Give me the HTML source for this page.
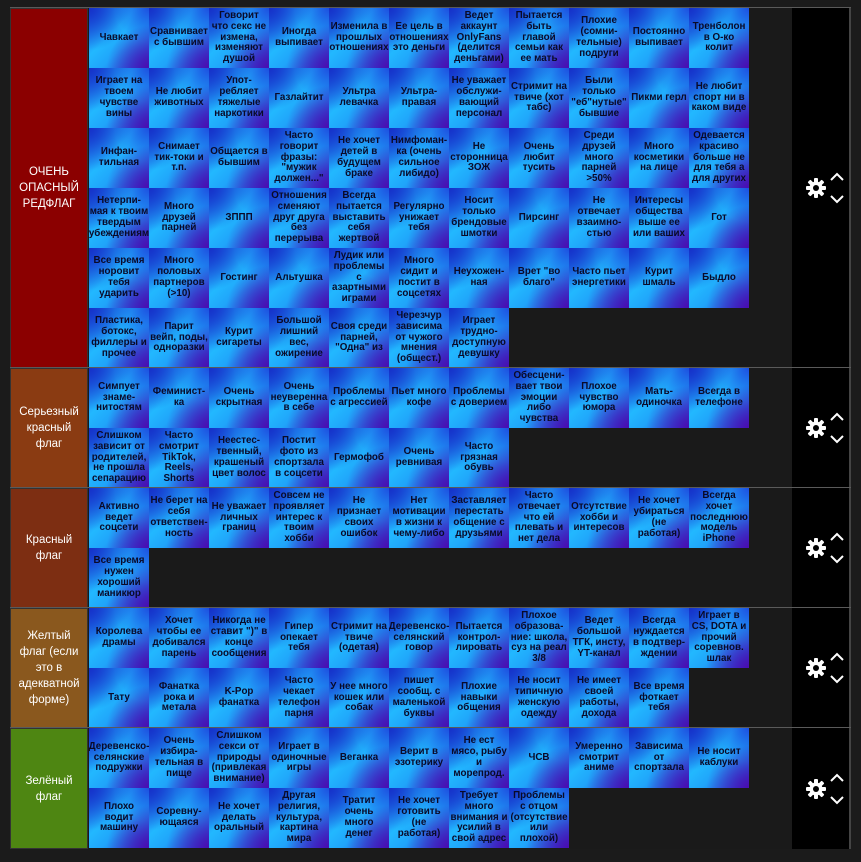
<!DOCTYPE html>
<html><head><meta charset="utf-8"><style>
*{margin:0;padding:0;box-sizing:border-box}
body{width:861px;height:862px;background:#1b1b1b;font-family:"Liberation Sans","DejaVu Sans",sans-serif;overflow:hidden;position:relative}
.tier{position:absolute;left:10px;width:841px;background:#1a1a1a;border-top:1px solid #5a5a5a}
.lab{position:absolute;left:0;top:0;bottom:0;width:78px;display:flex;align-items:center;justify-content:center;text-align:center;color:#fff;font-size:11.5px;line-height:16px;border:1px solid #333}
.items{position:absolute;left:79px;top:0;width:660px;display:flex;flex-wrap:wrap}
.c{width:60px;height:60px;display:flex;align-items:center;justify-content:center;text-align:center;font-size:9.8px;line-height:10.8px;font-weight:bold;color:#0a0a28;overflow:hidden;padding:0 1px;
background:radial-gradient(circle at 100% 100%,#4a0cb0 0%,rgba(74,12,176,0) 50%),radial-gradient(circle at 0% 0%,#1530c8 0%,rgba(21,48,200,0) 50%),radial-gradient(circle at 100% 0%,#1d4fe0 0%,rgba(29,79,224,0) 40%),linear-gradient(135deg,#1c60e8 0%,#22b8ff 40%,#20a4fa 60%,#2440d8 100%)}
.ctl{position:absolute;left:782px;top:0;bottom:0;width:59px;background:#000;border-right:2px solid #444}
.gear{position:absolute;left:14px;top:50%;transform:translateY(-50%)}
.arr{position:absolute;left:37px;top:50%;transform:translateY(-50%)}
</style></head><body>
<svg width="0" height="0" style="position:absolute"><defs><g id="g"><circle cx="10" cy="10" r="6.5" fill="#fff"/><g fill="#fff"><rect x="8" y="0" width="4" height="20" rx="1"/><rect x="8" y="0" width="4" height="20" rx="1" transform="rotate(45 10 10)"/><rect x="8" y="0" width="4" height="20" rx="1" transform="rotate(90 10 10)"/><rect x="8" y="0" width="4" height="20" rx="1" transform="rotate(135 10 10)"/></g><circle cx="10" cy="10" r="3" fill="#000"/></g></defs></svg>

<div class="tier" style="top:7px;height:361px">
<div class="lab" style="background:#8b0000">ОЧЕНЬ<br>ОПАСНЫЙ<br>РЕДФЛАГ</div>
<div class="items">
<div class="c">Чавкает</div><div class="c">Сравнивает с бывшим</div><div class="c">Говорит что секс не измена, изменяют душой</div><div class="c">Иногда выпивает</div><div class="c">Изменила в прошлых отношениях</div><div class="c">Ее цель в отношениях это деньги</div><div class="c">Ведет аккаунт OnlyFans (делится деньгами)</div><div class="c">Пытается быть главой семьи как ее мать</div><div class="c">Плохие (сомни-тельные) подруги</div><div class="c">Постоянно выпивает</div><div class="c">Тренболон в О-ко колит</div>
<div class="c">Играет на твоем чувстве вины</div><div class="c">Не любит животных</div><div class="c">Упот-ребляет тяжелые наркотики</div><div class="c">Газлайтит</div><div class="c">Ультра левачка</div><div class="c">Ультра-правая</div><div class="c">Не уважает обслужи-вающий персонал</div><div class="c">Стримит на твиче (хот табс)</div><div class="c">Были только "еб"нутые" бывшие</div><div class="c">Пикми герл</div><div class="c">Не любит спорт ни в каком виде</div>
<div class="c">Инфан-тильная</div><div class="c">Снимает тик-токи и т.п.</div><div class="c">Общается в бывшим</div><div class="c">Часто говорит фразы: "мужик должен..."</div><div class="c">Не хочет детей в будущем браке</div><div class="c">Нимфоман-ка (очень сильное либидо)</div><div class="c">Не сторонница ЗОЖ</div><div class="c">Очень любит тусить</div><div class="c">Среди друзей много парней &gt;50%</div><div class="c">Много косметики на лице</div><div class="c">Одевается красиво больше не для тебя а для других</div>
<div class="c">Нетерпи-мая к твоим твердым убеждениям</div><div class="c">Много друзей парней</div><div class="c">ЗППП</div><div class="c">Отношения сменяют друг друга без перерыва</div><div class="c">Всегда пытается выставить себя жертвой</div><div class="c">Регулярно унижает тебя</div><div class="c">Носит только брендовые шмотки</div><div class="c">Пирсинг</div><div class="c">Не отвечает взаимно-стью</div><div class="c">Интересы общества выше ее или ваших</div><div class="c">Гот</div>
<div class="c">Все время норовит тебя ударить</div><div class="c">Много половых партнеров (&gt;10)</div><div class="c">Гостинг</div><div class="c">Альтушка</div><div class="c">Лудик или проблемы с азартными играми</div><div class="c">Много сидит и постит в соцсетях</div><div class="c">Неухожен-ная</div><div class="c">Врет "во благо"</div><div class="c">Часто пьет энергетики</div><div class="c">Курит шмаль</div><div class="c">Быдло</div>
<div class="c">Пластика, ботокс, филлеры и прочее</div><div class="c">Парит вейп, поды, одноразки</div><div class="c">Курит сигареты</div><div class="c">Большой лишний вес, ожирение</div><div class="c">Своя среди парней, "Одна" из</div><div class="c">Черезчур зависима от чужого мнения (общест.)</div><div class="c">Играет трудно-доступную девушку</div>
</div>
<div class="ctl"><svg class="gear" width="20" height="20"><use href="#g"/></svg><svg class="arr" width="16" height="36"><polyline points="2,10 8,4 14,10" fill="none" stroke="#fff" stroke-width="2"/><polyline points="2,26 8,32 14,26" fill="none" stroke="#fff" stroke-width="2"/></svg></div>
</div>

<div class="tier" style="top:367px;height:121px">
<div class="lab" style="background:#8a3b12">Серьезный<br>красный<br>флаг</div>
<div class="items">
<div class="c">Симпует знаме-нитостям</div><div class="c">Феминист-ка</div><div class="c">Очень скрытная</div><div class="c">Очень неуверенна в себе</div><div class="c">Проблемы с агрессией</div><div class="c">Пьет много кофе</div><div class="c">Проблемы с доверием</div><div class="c">Обесцени-вает твои эмоции либо чувства</div><div class="c">Плохое чувство юмора</div><div class="c">Мать-одиночка</div><div class="c">Всегда в телефоне</div>
<div class="c">Слишком зависит от родителей, не прошла сепарацию</div><div class="c">Часто смотрит TikTok, Reels, Shorts</div><div class="c">Неестес-твенный, крашеный цвет волос</div><div class="c">Постит фото из спортзала в соцсети</div><div class="c">Гермофоб</div><div class="c">Очень ревнивая</div><div class="c">Часто грязная обувь</div>
</div>
<div class="ctl"><svg class="gear" width="20" height="20"><use href="#g"/></svg><svg class="arr" width="16" height="36"><polyline points="2,10 8,4 14,10" fill="none" stroke="#fff" stroke-width="2"/><polyline points="2,26 8,32 14,26" fill="none" stroke="#fff" stroke-width="2"/></svg></div>
</div>

<div class="tier" style="top:487px;height:121px">
<div class="lab" style="background:#7d2e12">Красный<br>флаг</div>
<div class="items">
<div class="c">Активно ведет соцсети</div><div class="c">Не берет на себя ответствен-ность</div><div class="c">Не уважает личных границ</div><div class="c">Совсем не проявляет интерес к твоим хобби</div><div class="c">Не признает своих ошибок</div><div class="c">Нет мотивации в жизни к чему-либо</div><div class="c">Заставляет перестать общение с друзьями</div><div class="c">Часто отвечает что ей плевать и нет дела</div><div class="c">Отсутствие хобби и интересов</div><div class="c">Не хочет убираться (не работая)</div><div class="c">Всегда хочет последнюю модель iPhone</div>
<div class="c">Все время нужен хороший маникюр</div>
</div>
<div class="ctl"><svg class="gear" width="20" height="20"><use href="#g"/></svg><svg class="arr" width="16" height="36"><polyline points="2,10 8,4 14,10" fill="none" stroke="#fff" stroke-width="2"/><polyline points="2,26 8,32 14,26" fill="none" stroke="#fff" stroke-width="2"/></svg></div>
</div>

<div class="tier" style="top:607px;height:121px">
<div class="lab" style="background:#8a581e">Желтый<br>флаг (если<br>это в<br>адекватной<br>форме)</div>
<div class="items">
<div class="c">Королева драмы</div><div class="c">Хочет чтобы ее добивался парень</div><div class="c">Никогда не ставит ")" в конце сообщения</div><div class="c">Гипер опекает тебя</div><div class="c">Стримит на твиче (одетая)</div><div class="c">Деревенско-селянский говор</div><div class="c">Пытается контрол-лировать</div><div class="c">Плохое образова-ние: школа, суз на реал 3/8</div><div class="c">Ведет большой ТГК, инсту, YT-канал</div><div class="c">Всегда нуждается в подтвер-ждении</div><div class="c">Играет в CS, DOTA и прочий соревнов. шлак</div>
<div class="c">Тату</div><div class="c">Фанатка рока и метала</div><div class="c">K-Pop фанатка</div><div class="c">Часто чекает телефон парня</div><div class="c">У нее много кошек или собак</div><div class="c">пишет сообщ. с маленькой буквы</div><div class="c">Плохие навыки общения</div><div class="c">Не носит типичную женскую одежду</div><div class="c">Не имеет своей работы, дохода</div><div class="c">Все время фоткает тебя</div>
</div>
<div class="ctl"><svg class="gear" width="20" height="20"><use href="#g"/></svg><svg class="arr" width="16" height="36"><polyline points="2,10 8,4 14,10" fill="none" stroke="#fff" stroke-width="2"/><polyline points="2,26 8,32 14,26" fill="none" stroke="#fff" stroke-width="2"/></svg></div>
</div>

<div class="tier" style="top:727px;height:122px">
<div class="lab" style="background:#4e8612">Зелёный<br>флаг</div>
<div class="items">
<div class="c">Деревенско-селянские подружки</div><div class="c">Очень избира-тельная в пище</div><div class="c">Слишком секси от природы (привлекая внимание)</div><div class="c">Играет в одиночные игры</div><div class="c">Веганка</div><div class="c">Верит в эзотерику</div><div class="c">Не ест мясо, рыбу и морепрод.</div><div class="c">ЧСВ</div><div class="c">Умеренно смотрит аниме</div><div class="c">Зависима от спортзала</div><div class="c">Не носит каблуки</div>
<div class="c">Плохо водит машину</div><div class="c">Соревну-ющаяся</div><div class="c">Не хочет делать оральный</div><div class="c">Другая религия, культура, картина мира</div><div class="c">Тратит очень много денег</div><div class="c">Не хочет готовить (не работая)</div><div class="c">Требует много внимания и усилий в свой адрес</div><div class="c">Проблемы с отцом (отсутствие или плохой)</div>
</div>
<div class="ctl"><svg class="gear" width="20" height="20"><use href="#g"/></svg><svg class="arr" width="16" height="36"><polyline points="2,10 8,4 14,10" fill="none" stroke="#fff" stroke-width="2"/><polyline points="2,26 8,32 14,26" fill="none" stroke="#fff" stroke-width="2"/></svg></div>
</div>

</body></html>
